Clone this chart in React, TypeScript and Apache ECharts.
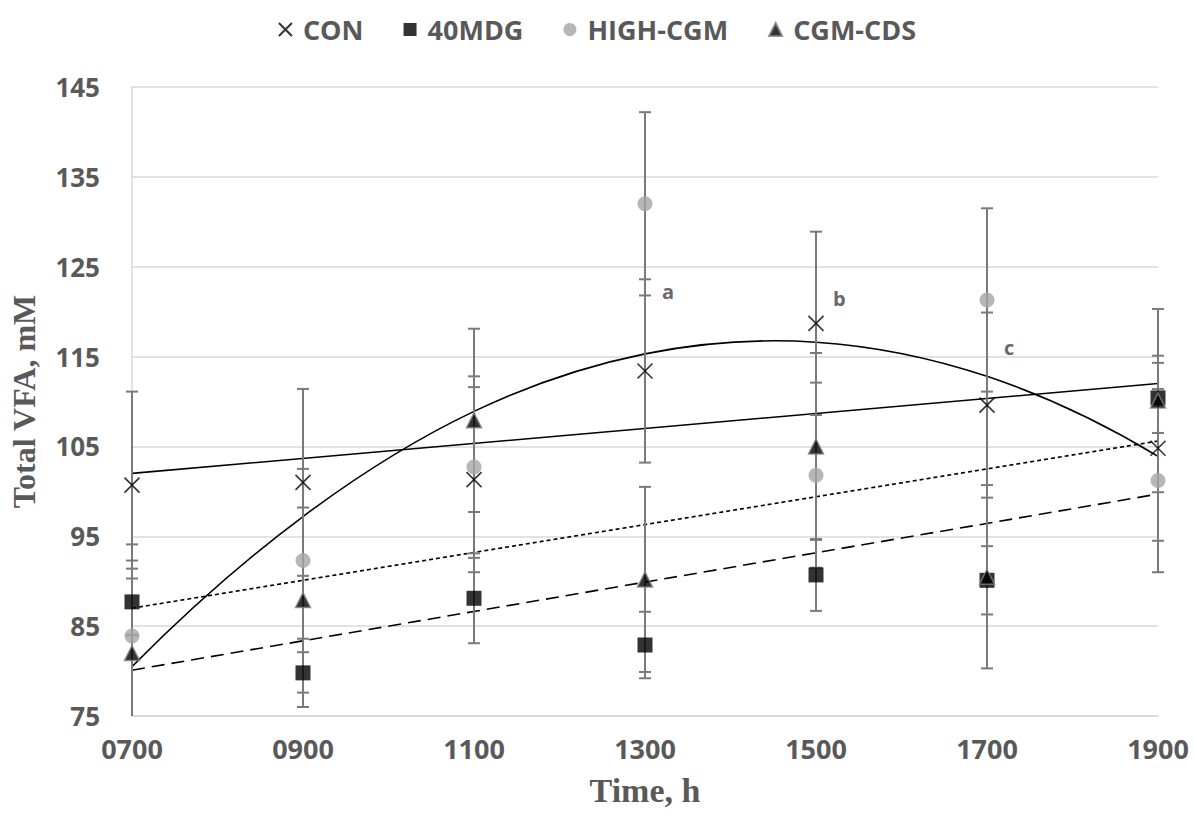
import React, { useEffect, useRef } from "react";
import * as echarts from "echarts";

const categories = ["0700", "0900", "1100", "1300", "1500", "1700", "1900"];

const seriesNames = ["CON", "40MDG", "HIGH-CGM", "CGM-CDS"];

const conValues = [100.7, 101.0, 101.3, 113.4, 118.7, 109.6, 104.8];
const conSE = [10.4, 10.4, 10.3, 10.2, 10.2, 10.3, 10.3];

const mdgValues = [87.7, 79.8, 88.1, 82.9, 90.7, 90.1, 110.4];
const mdgSE = [3.7, 3.8, 5.0, 3.7, 4.0, 3.8, 3.9];

const highValues = [83.9, 92.3, 102.7, 132.0, 101.8, 121.3, 101.2];
const highSE = [10.2, 10.2, 10.1, 10.2, 10.3, 10.2, 10.2];

const cdsValues = [82.0, 87.9, 107.9, 90.2, 105.0, 90.5, 110.1];
const cdsSE = [10.3, 10.3, 10.2, 10.3, 10.4, 10.2, 10.2];

// Trendlines
const conTrendEnds = [102.0, 112.0];
const mdgTrendEnds = [80.1, 99.7];
const cdsTrendEnds = [87.0, 105.6];
// HIGH-CGM polynomial trendline, read at each time point
const highTrend = [80.5, 97.2, 108.9, 115.3, 116.6, 112.8, 103.9];

// Letter annotations
const annLabels = ["a", "b", "c"];
const annIndex = [3, 4, 5];
const annValues = [122.2, 121.5, 116.0];

const yMin = 75;
const yMax = 145;
const yStep = 10;

const GRAY_TEXT = "#595959";
const GRID_GRAY = "#D9D9D9";
const ERR_GRAY = "#7A7A7A";
const SANS = "'Open Sans', 'Noto Sans', sans-serif";
const SERIF = "'Liberation Serif', 'DejaVu Serif', serif";

function errorSeries(name: string, values: number[], se: number[]) {
  return {
    type: "custom",
    name: name + "-err",
    z: 3,
    silent: true,
    data: values.map((v, i) => [i, v - se[i], v + se[i]]),
    renderItem: (params: any, api: any) => {
      const cs = params.coordSys;
      const top = cs.y;
      const bottom = cs.y + cs.height;
      const i = api.value(0);
      const lo = api.coord([i, api.value(1)]);
      const hi = api.coord([i, api.value(2)]);
      const x = lo[0];
      const w = 6;
      const yLo = Math.min(lo[1], bottom);
      const yHi = Math.max(hi[1], top);
      const style = { stroke: ERR_GRAY, lineWidth: 2 };
      const children: any[] = [
        { type: "line", shape: { x1: x, y1: yHi, x2: x, y2: yLo }, style },
      ];
      if (hi[1] >= top) {
        children.push({ type: "line", shape: { x1: x - w, y1: hi[1], x2: x + w, y2: hi[1] }, style });
      }
      if (lo[1] <= bottom) {
        children.push({ type: "line", shape: { x1: x - w, y1: lo[1], x2: x + w, y2: lo[1] }, style });
      }
      return { type: "group", children };
    },
  };
}

function trendLine(name: string, ends: number[], dash: any) {
  return {
    type: "line",
    name,
    z: 2,
    silent: true,
    symbol: "none",
    data: [
      [0, ends[0]],
      [categories.length - 1, ends[1]],
    ],
    lineStyle: { color: "#000", width: 1.6, type: dash },
  };
}

// slope (value per category step) of the smooth curve through the read points
function slopeAt(arr: number[], i: number) {
  const n = arr.length;
  if (i === 0) return (-3 * arr[0] + 4 * arr[1] - arr[2]) / 2;
  if (i === n - 1) return (3 * arr[n - 1] - 4 * arr[n - 2] + arr[n - 3]) / 2;
  return (arr[i + 1] - arr[i - 1]) / 2;
}

function smoothCurveSeries(name: string, arr: number[]) {
  return {
    type: "custom",
    name,
    z: 2,
    silent: true,
    data: arr.map((v, i) => [i, v]),
    renderItem: (params: any, api: any) => {
      const i = api.value(0);
      if (i >= arr.length - 1) return { type: "group", children: [] };
      const p0 = api.coord([i, arr[i]]);
      const p1 = api.coord([i + 1, arr[i + 1]]);
      const dx = p1[0] - p0[0];
      const c0y = api.coord([i, arr[i] + slopeAt(arr, i) / 3])[1];
      const c1y = api.coord([i + 1, arr[i + 1] - slopeAt(arr, i + 1) / 3])[1];
      return {
        type: "bezierCurve",
        shape: {
          x1: p0[0],
          y1: p0[1],
          x2: p1[0],
          y2: p1[1],
          cpx1: p0[0] + dx / 3,
          cpy1: c0y,
          cpx2: p1[0] - dx / 3,
          cpy2: c1y,
        },
        style: { stroke: "#000", lineWidth: 1.6, fill: null },
      };
    },
  };
}

export default function App() {
  const ref = useRef<HTMLDivElement>(null);

  useEffect(() => {
    document.body.style.margin = "0";
    if (!ref.current) return;
    const chart = echarts.init(ref.current, null, { renderer: "svg" });

    const option: any = {
      animation: false,
      backgroundColor: "#fff",
      grid: { left: 128, right: 36, top: 87, bottom: 101, containLabel: false },
      legend: {
        top: 11,
        left: "center",
        data: seriesNames,
        itemWidth: 13,
        itemHeight: 13,
        itemGap: 40,
        textStyle: {
          fontFamily: SANS,
          fontWeight: "bold",
          fontSize: 27,
          color: GRAY_TEXT,
          padding: [0, 0, 0, 6],
        },
      },
      xAxis: {
        type: "category",
        data: categories,
        boundaryGap: false,
        name: "Time, h",
        nameLocation: "middle",
        nameGap: 57,
        nameTextStyle: { fontFamily: SERIF, fontWeight: "bold", fontSize: 34, color: GRAY_TEXT },
        axisLine: { lineStyle: { color: GRID_GRAY, width: 1.5 } },
        axisTick: { show: false },
        axisLabel: { fontFamily: SANS, fontWeight: "bold", fontSize: 27, color: GRAY_TEXT, margin: 19 },
        splitLine: { show: false },
      },
      yAxis: {
        type: "value",
        min: yMin,
        max: yMax,
        interval: yStep,
        name: "Total VFA, mM",
        nameLocation: "middle",
        nameGap: 92,
        nameTextStyle: { fontFamily: SERIF, fontWeight: "bold", fontSize: 32, color: GRAY_TEXT },
        axisLine: { show: true, lineStyle: { color: GRID_GRAY, width: 1.5 } },
        axisTick: { show: false },
        axisLabel: { fontFamily: SANS, fontWeight: "bold", fontSize: 26, color: GRAY_TEXT, margin: 32 },
        splitLine: { lineStyle: { color: GRID_GRAY, width: 1.5 } },
      },
      series: [
        trendLine("CON-trend", conTrendEnds, "solid"),
        trendLine("40MDG-trend", mdgTrendEnds, [13, 7]),
        trendLine("CGM-CDS-trend", cdsTrendEnds, [4, 3]),
        smoothCurveSeries("HIGH-CGM-trend", highTrend),
        errorSeries("CON", conValues, conSE),
        errorSeries("40MDG", mdgValues, mdgSE),
        errorSeries("HIGH-CGM", highValues, highSE),
        errorSeries("CGM-CDS", cdsValues, cdsSE),
        {
          type: "scatter",
          name: "CON",
          z: 5,
          symbol: "path://M0,0L10,10M10,0L0,10",
          symbolSize: 15,
          itemStyle: { color: "rgba(0,0,0,0)", borderColor: "#000", borderWidth: 1.6 },
          data: conValues.map((v, i) => [i, v]),
        },
        {
          type: "scatter",
          name: "40MDG",
          z: 5,
          symbol: "rect",
          symbolSize: 15,
          itemStyle: { color: "#000" },
          data: mdgValues.map((v, i) => [i, v]),
        },
        {
          type: "scatter",
          name: "HIGH-CGM",
          z: 5,
          symbol: "circle",
          symbolSize: 15,
          itemStyle: { color: "#A5A5A5" },
          data: highValues.map((v, i) => [i, v]),
        },
        {
          type: "scatter",
          name: "CGM-CDS",
          z: 5,
          symbol: "triangle",
          symbolSize: 15,
          itemStyle: { color: "#000", borderColor: "#808080", borderWidth: 1.5 },
          data: cdsValues.map((v, i) => [i, v]),
        },
        {
          type: "scatter",
          name: "letters",
          z: 6,
          silent: true,
          symbolSize: 0,
          data: annValues.map((v, i) => ({ value: [annIndex[i], v], name: annLabels[i] })),
          label: {
            show: true,
            position: "right",
            distance: 17,
            formatter: (p: any) => p.name,
            fontFamily: SANS,
            fontWeight: "bold",
            fontSize: 20,
            color: "#404040",
          },
        },
      ],
    };

    chart.setOption(option);
    return () => chart.dispose();
  }, []);

  return <div ref={ref} style={{ width: 1194, height: 817 }} />;
}
